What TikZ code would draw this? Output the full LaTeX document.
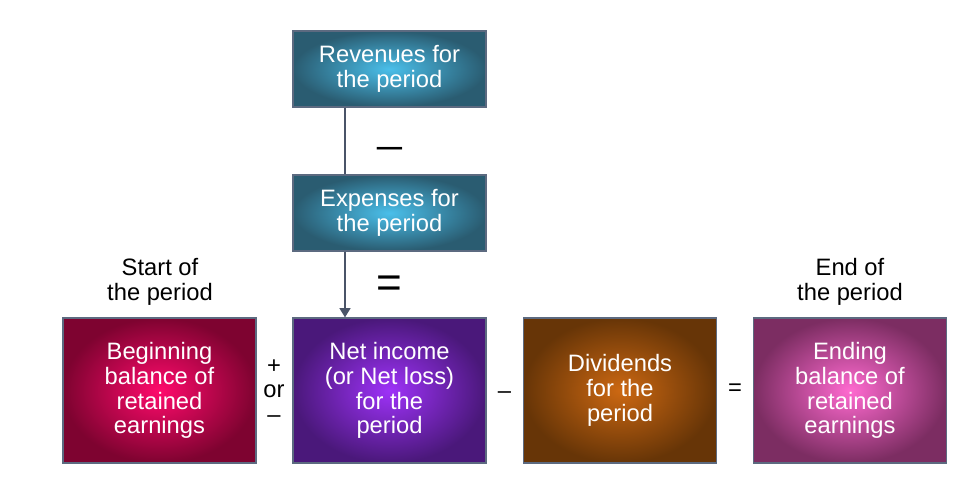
\documentclass[tikz,border=0pt]{standalone}
\usepackage{fontspec}
\setmainfont{Liberation Sans}
\usetikzlibrary{arrows.meta}

\definecolor{revin}{HTML}{4ABFEA}
\definecolor{revout}{HTML}{2A5C71}
\definecolor{begin}{HTML}{FF0A6C}
\definecolor{begout}{HTML}{7E0330}
\definecolor{netin}{HTML}{9E32F8}
\definecolor{netout}{HTML}{4A187A}
\definecolor{divin}{HTML}{CC6812}
\definecolor{divout}{HTML}{673507}
\definecolor{endin}{HTML}{FF6AD0}
\definecolor{endout}{HTML}{7C2D62}
\definecolor{boxedge}{HTML}{5C6A80}
\definecolor{spineline}{HTML}{4A5468}

\tikzset{
  acct/.style={draw=boxedge, line width=0.8pt, minimum width=144.75pt,
    inner sep=0pt, text=white, align=center,
    font=\fontsize{17.8}{18.6}\selectfont},
  flowbox/.style={acct, minimum height=57pt},
  eqbox/.style={acct, minimum height=108.75pt},
  sign/.style={inner sep=0pt, align=center, font=\fontsize{17.8}{18.6}\selectfont}
}

\begin{document}
\begin{tikzpicture}[x=0.75pt,y=-0.75pt]
\useasboundingbox (0,0) rectangle (953,496);

% top flow
\node [flowbox, inner color=revin, outer color=revout] (rev) at (389.5,69) {Revenues for\\the period};
\node [flowbox, inner color=revin, outer color=revout] (exp) at (389.5,213) {Expenses for\\the period};

% equation row
\node [eqbox, inner color=begin, outer color=begout] (begbal) at (159.5,390.5) {Beginning\\balance of\\retained\\earnings};
\node [eqbox, inner color=netin, outer color=netout] (netinc) at (389.5,390.5) {Net income\\(or Net loss)\\for the\\period};
\node [eqbox, inner color=divin, outer color=divout] (divid) at (620,390.5) {Dividends\\for the\\period};
\node [eqbox, inner color=endin, outer color=endout] (endbal) at (850,390.5) {Ending\\balance of\\retained\\earnings};

% labels above
\node [sign] (start) at (160,281.5) {Start of\\the period};
\node [sign] (finish) at (850,281.5) {End of\\the period};

% signs
\node [sign, font=\fontsize{19}{19}\bfseries] (minus) at (389.5,151) {—};
\node [sign, font=\fontsize{33}{33}\selectfont] (equals) at (389.5,287) {=};
\node [sign] (plusor) at (274,391) {+\\or\\–};
\node [sign] (less) at (504.5,395) {–};
\node [sign] (gives) at (735,390) {=};

% connectors
\coordinate (spine) at (345,0);
\draw [spineline, line width=2.2pt] (rev.south -| spine) -- (exp.north -| spine);
\draw [spineline, line width=2.2pt, -{Triangle[length=7pt,width=8pt]}] (exp.south -| spine) -- (netinc.north -| spine);

\end{tikzpicture}
\end{document}
